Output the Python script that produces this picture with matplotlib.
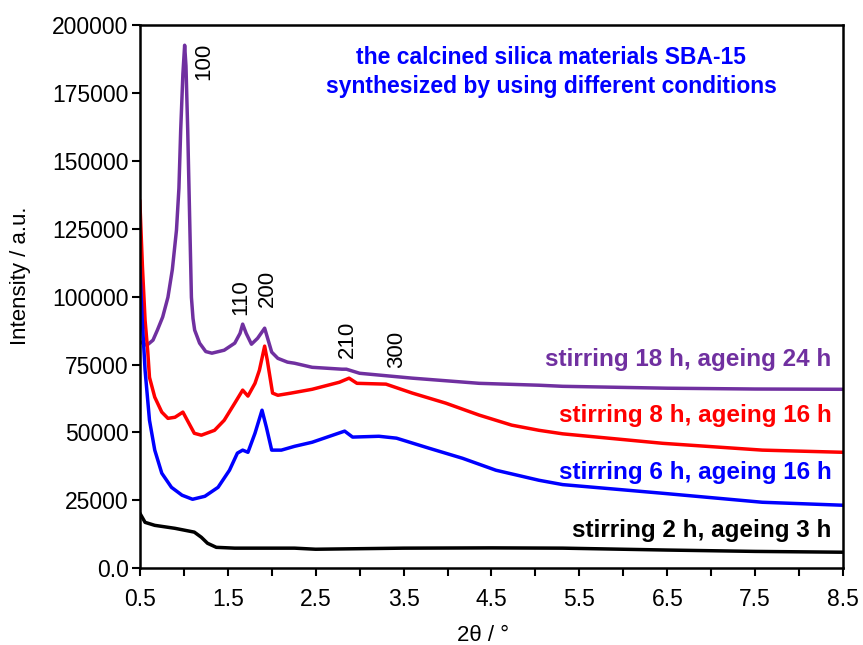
import numpy as np
import matplotlib
matplotlib.use('Agg')
import matplotlib.pyplot as plt
from matplotlib.ticker import FixedLocator

plt.rcParams['font.family'] = ['Liberation Sans', 'DejaVu Sans']

# stirring 18 h, ageing 24 h
x_18 = [0.50, 0.52, 0.58, 0.65, 0.70, 0.76, 0.82, 0.87, 0.917, 0.945, 0.965, 0.99,
        1.01, 1.025, 1.045, 1.07, 1.087, 1.105, 1.124, 1.18, 1.25, 1.32, 1.46, 1.58,
        1.64, 1.67, 1.71, 1.77, 1.84, 1.92, 1.95, 2.00, 2.07, 2.18, 2.26, 2.46, 2.80,
        2.85, 3.00, 3.60, 4.36, 5.04, 5.31, 6.50, 7.50, 8.50]
y_18 = [83000, 83200, 82100, 84000, 87700, 92500, 99800, 110000, 124500, 140000,
        161300, 182000, 192600, 185000, 161300, 124500, 99800, 92000, 87700, 82900,
        79800, 79200, 80300, 82900, 86500, 89900, 86500, 82500, 84700, 88400, 85100,
        79600, 77300, 75900, 75500, 74000, 73300, 73300, 71800, 70000, 68100, 67400,
        67000, 66300, 66000, 65900]

# stirring 8 h, ageing 16 h
x_8 = [0.50, 0.53, 0.56, 0.59, 0.61, 0.67, 0.75, 0.82, 0.90, 0.99, 1.04, 1.12, 1.20,
       1.35, 1.46, 1.58, 1.67, 1.73, 1.81, 1.86, 1.92, 1.95, 2.01, 2.07, 2.22, 2.46,
       2.77, 2.88, 2.97, 3.30, 3.60, 3.98, 4.36, 4.73, 5.04, 5.31, 6.45, 7.58, 8.50]
y_8 = [135500, 110900, 91300, 80000, 70300, 63000, 57500, 55200, 55600, 57500, 54500,
       49700, 49000, 50800, 54500, 60800, 65600, 63400, 68100, 72900, 81800, 76600,
       64500, 63700, 64500, 65900, 68500, 70000, 68100, 67800, 64500, 60800, 56400,
       52700, 50800, 49500, 46000, 43500, 42700]

# stirring 6 h, ageing 16 h
x_6 = [0.50, 0.53, 0.56, 0.61, 0.67, 0.75, 0.86, 0.98, 1.10, 1.24, 1.39, 1.52, 1.61,
       1.67, 1.73, 1.81, 1.89, 1.94, 2.00, 2.11, 2.26, 2.46, 2.83, 2.92, 3.22, 3.42,
       3.79, 4.17, 4.55, 5.04, 5.31, 6.45, 7.58, 8.50]
y_6 = [111000, 90000, 72900, 54500, 43500, 35000, 29800, 26900, 25400, 26500, 29800,
       36100, 42400, 43500, 42700, 49700, 58200, 51900, 43500, 43500, 44900, 46400,
       50500, 48300, 48600, 47900, 44200, 40500, 36100, 32400, 30800, 27600, 24300,
       23200]

# stirring 2 h, ageing 3 h
x_2 = [0.50, 0.56, 0.67, 0.90, 1.12, 1.20, 1.27, 1.37, 1.58, 2.26, 2.50, 3.50, 4.50,
       5.31, 6.50, 7.50, 8.50]
y_2 = [20300, 16900, 15800, 14700, 13300, 11400, 9200, 7700, 7400, 7400, 7000, 7400,
       7500, 7400, 6700, 6200, 5900]

series = [
    (x_18, y_18, '#7030A0', 'stirring 18 h, ageing 24 h', 77000),
    (x_8, y_8, '#FF0000', 'stirring 8 h, ageing 16 h', 56400),
    (x_6, y_6, '#0000FF', 'stirring 6 h, ageing 16 h', 35400),
    (x_2, y_2, '#000000', 'stirring 2 h, ageing 3 h', 14000),
]

peak_labels = ['100', '110', '200', '210', '300']
peak_x = [1.23, 1.65, 1.95, 2.86, 3.42]
peak_y = [179700, 93200, 96100, 77300, 73700]

fig = plt.figure(figsize=(8.63, 6.45), dpi=100)
ax = fig.add_axes([0.162, 0.119, 0.815, 0.842])

for xs, ys, c, lab, ly in series:
    ax.plot(xs, ys, color=c, lw=2.5, solid_joinstyle='round', solid_capstyle='round')
    ax.text(8.37, ly, lab, color=c, fontsize=17.5, fontweight='bold',
            ha='right', va='center')

for lab, px, py in zip(peak_labels, peak_x, peak_y):
    ax.text(px, py, lab, rotation=90, fontsize=16, ha='center', va='bottom')

ax.text(5.18, 182800, 'the calcined silica materials SBA-15\nsynthesized by using different conditions',
        color='#0000FF', fontsize=16.5, fontweight='bold', ha='center', va='center',
        linespacing=1.35)

ax.set_xlim(0.5, 8.5)
ax.set_ylim(0, 200000)
ax.xaxis.set_major_locator(FixedLocator(np.arange(0.5, 8.6, 1.0)))
ax.xaxis.set_minor_locator(FixedLocator(np.arange(1.0, 8.1, 1.0)))
ax.set_xticklabels([f'{v:.1f}' for v in np.arange(0.5, 8.6, 1.0)])
yt = np.arange(0, 200001, 25000)
ax.yaxis.set_major_locator(FixedLocator(yt))
ax.set_yticklabels(['0.0'] + [str(v) for v in yt[1:]])
ax.tick_params(axis='both', which='both', direction='out', length=6, width=1.5,
               labelsize=16.5)
ax.tick_params(axis='x', which='both', pad=8)
ax.tick_params(axis='y', which='both', pad=2)
for s in ax.spines.values():
    s.set_linewidth(1.8)

ax.set_xlabel('2θ / °', fontsize=16)
ax.set_ylabel('Intensity / a.u.', fontsize=16)
ax.xaxis.set_label_coords(0.488, -0.105)
ax.yaxis.set_label_coords(-0.155, 0.538)

plt.savefig('out.png', dpi=100)
